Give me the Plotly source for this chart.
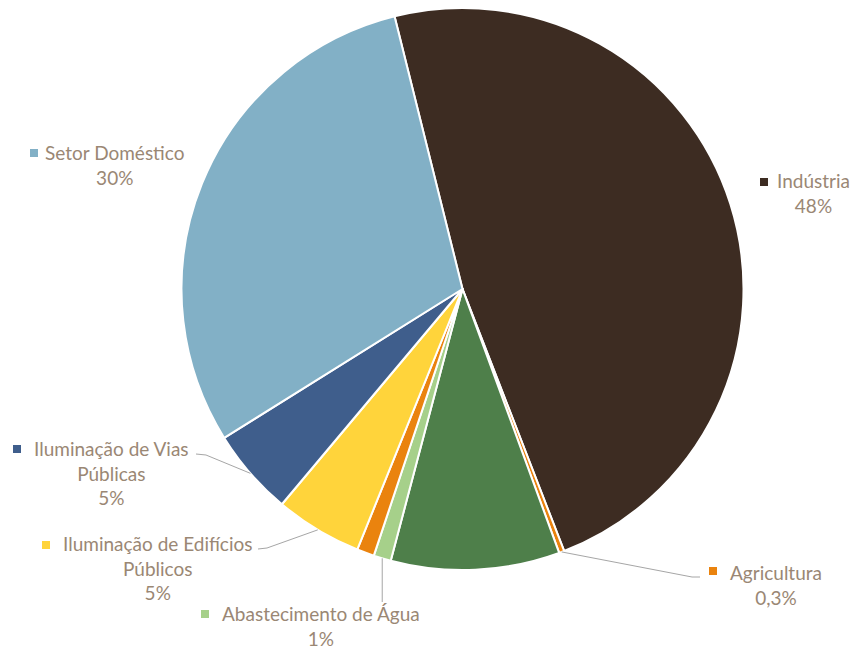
import math
import plotly.graph_objects as go

# Energy consumption by sector (share of total, %)
sectors = [
    "Indústria",
    "Agricultura",
    "Comércio e Serviços",
    "Abastecimento de Água",
    "Outros",
    "Iluminação de Edifícios Públicos",
    "Iluminação de Vias Públicas",
    "Setor Doméstico",
]
shares = [48, 0.3, 9.7, 1, 1, 5, 5, 30]
colors = ["#3D2C22", "#EA830E", "#4E7F4A", "#A6D08A", "#EA830E",
          "#FFD43B", "#3F5E8C", "#82B0C6"]

# Sectors that carry an outside label: display text lines
label_lines = {
    "Indústria": ["Indústria"],
    "Agricultura": ["Agricultura"],
    "Abastecimento de Água": ["Abastecimento de Água"],
    "Iluminação de Edifícios Públicos": ["Iluminação de Edifícios", "Públicos"],
    "Iluminação de Vias Públicas": ["Iluminação de Vias", "Públicas"],
    "Setor Doméstico": ["Setor Doméstico"],
}

W, H = 854, 649
CX, CY, R = 462.5, 289, 281
ROTATION = -14
TEXT_COLOR = "#9A8774"
FONT = "Lato"


def px(x):
    return x / W


def py(y):
    return 1 - y / H


def fmt_pct(v):
    return f"{v:g}".replace(".", ",") + "%"


fig = go.Figure(go.Pie(
    labels=sectors,
    values=shares,
    sort=False,
    direction="clockwise",
    rotation=ROTATION,
    marker=dict(colors=colors, line=dict(color="white", width=2)),
    textinfo="none",
    hoverinfo="label+percent",
    showlegend=False,
    domain=dict(x=[px(CX - R), px(CX + R)], y=[py(CY + R), py(CY - R)]),
))

# Label layout: text block centre, marker square centre, leader-line path end
# ("v" means a vertical drop from the slice edge to the given y)
placement = {
    "Indústria": dict(tx=813, ty=193, mk=(764, 182), lead=None),
    "Setor Doméstico": dict(tx=115, ty=165, mk=(34, 153), lead=None),
    "Iluminação de Vias Públicas": dict(tx=111, ty=473, mk=(17, 449),
                                        lead=[(206, 455), (196, 454)]),
    "Iluminação de Edifícios Públicos": dict(tx=157, ty=568, mk=(46, 545),
                                             lead=[(267, 548), (258, 549)]),
    "Abastecimento de Água": dict(tx=321, ty=626, mk=(205, 614),
                                  lead=[("v", 602)]),
    "Agricultura": dict(tx=776, ty=585, mk=(713, 571),
                        lead=[(692, 577), (700, 577)]),
}

total = sum(shares)
annotations = []
shapes = []
cum = 0.0
for name, val, col in zip(sectors, shares, colors):
    start = cum
    cum += val
    if name not in placement:
        continue
    p = placement[name]
    mid = math.radians(ROTATION + (start + val / 2) / total * 360)
    lines = label_lines[name] + [fmt_pct(val)]
    annotations.append(dict(
        x=px(p["tx"]), y=py(p["ty"]), xref="paper", yref="paper",
        text="<br>".join(lines), showarrow=False,
        xanchor="center", yanchor="middle", align="center",
        font=dict(family=FONT, size=19, color=TEXT_COLOR),
    ))
    mx, my = p["mk"]
    shapes.append(dict(
        type="rect", xref="paper", yref="paper",
        x0=px(mx - 4), x1=px(mx + 4), y0=py(my + 4), y1=py(my - 4),
        fillcolor=col, line=dict(width=0),
    ))
    if p["lead"]:
        sx = CX + R * math.sin(mid)
        sy = CY - R * math.cos(mid)
        pts = [(sx, sy)]
        for x, y in p["lead"]:
            pts.append((sx if x == "v" else x, y))
        path = "M " + " L ".join(f"{px(x)},{py(y)}" for x, y in pts)
        shapes.append(dict(
            type="path", xref="paper", yref="paper", path=path,
            line=dict(color="#A6A6A6", width=1),
        ))

fig.update_layout(
    width=W, height=H,
    margin=dict(l=0, r=0, t=0, b=0),
    paper_bgcolor="white",
    plot_bgcolor="white",
    annotations=annotations,
    shapes=shapes,
)

fig.write_html("out.html")
